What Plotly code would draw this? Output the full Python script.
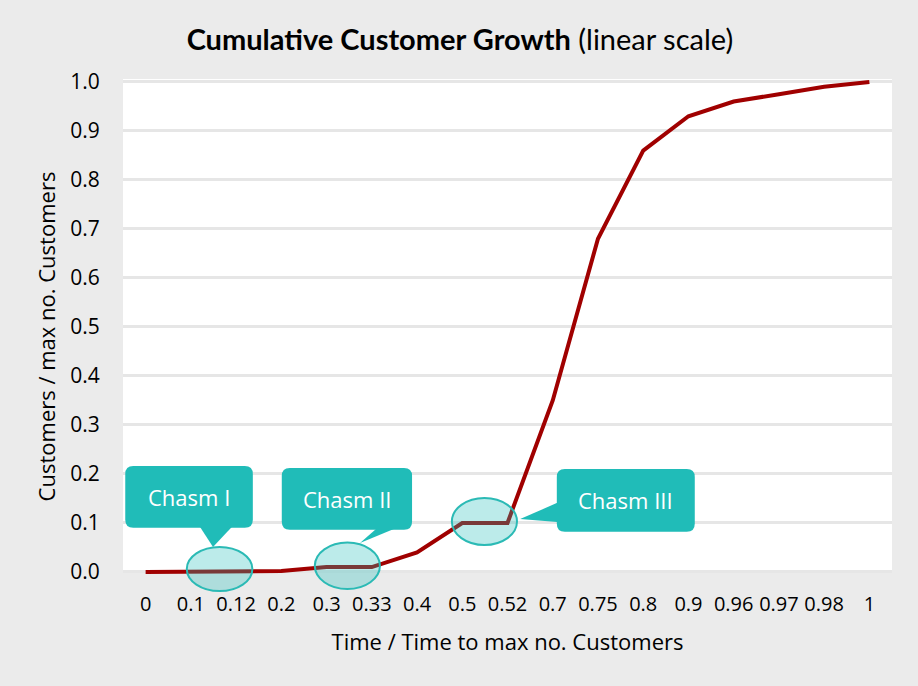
import plotly.graph_objects as go

# ---- data ----
time_labels = ["0", "0.1", "0.12", "0.2", "0.3", "0.33", "0.4", "0.5", "0.52",
               "0.7", "0.75", "0.8", "0.9", "0.96", "0.97", "0.98", "1"]
customers = [0.0, 0.0, 0.0, 0.002, 0.01, 0.01, 0.04, 0.10, 0.10,
             0.35, 0.68, 0.86, 0.93, 0.96, 0.975, 0.99, 1.0]
y_ticks = [0.0, 0.1, 0.2, 0.3, 0.4, 0.5, 0.6, 0.7, 0.8, 0.9, 1.0]

chasm_names = ["Chasm I", "Chasm II", "Chasm III"]
# ellipse extents in axis units (x = category index, y = data value)
chasm_ellipses = [(0.91, 2.36, -0.039, 0.051),
                  (3.74, 5.18, -0.035, 0.060),
                  (6.77, 8.21, 0.055, 0.151)]
# callout boxes (x0, x1, y0, y1) in axis units
chasm_boxes = [(-0.45, 2.37, 0.090, 0.216),
               (3.01, 5.89, 0.086, 0.212),
               (9.09, 12.14, 0.082, 0.210)]
# callout tails: list of three points
chasm_tails = [[(1.20, 0.092), (1.49, 0.051), (1.91, 0.092)],
               [(5.10, 0.088), (4.74, 0.059), (5.50, 0.088)],
               [(9.10, 0.141), (8.28, 0.108), (9.10, 0.102)]]

x_idx = list(range(len(time_labels)))

BG = "#ebebeb"
TEAL = "#20bcb8"
RED = "#a00000"

fig = go.Figure()
fig.add_trace(go.Scatter(x=x_idx, y=customers, mode="lines",
                         line=dict(color=RED, width=4),
                         hoverinfo="skip", showlegend=False))

shapes = []
# white plotting region (only from 0 to 1)
shapes.append(dict(type="rect", xref="x domain", yref="y", x0=0, x1=1,
                   y0=0, y1=1.01, fillcolor="white", line=dict(width=0),
                   layer="below"))

# px-per-unit helpers for rounded corners
XPX = 769 / 17.0
YPX = 490.0


def rounded_box(x0, x1, y0, y1, r=8):
    rx = r / XPX
    ry = r / YPX
    return (f"M {x0+rx},{y1} L {x1-rx},{y1} Q {x1},{y1} {x1},{y1-ry} "
            f"L {x1},{y0+ry} Q {x1},{y0} {x1-rx},{y0} L {x0+rx},{y0} "
            f"Q {x0},{y0} {x0},{y0+ry} L {x0},{y1-ry} Q {x0},{y1} {x0+rx},{y1} Z")


annotations = []
for name, (ex0, ex1, ey0, ey1), (bx0, bx1, by0, by1), tail in zip(
        chasm_names, chasm_ellipses, chasm_boxes, chasm_tails):
    shapes.append(dict(type="circle", xref="x", yref="y", x0=ex0, x1=ex1,
                       y0=ey0, y1=ey1, fillcolor="rgba(32,188,184,0.30)",
                       line=dict(color="#2bbab5", width=2), layer="above"))
    shapes.append(dict(type="path", xref="x", yref="y",
                       path=rounded_box(bx0, bx1, by0, by1),
                       fillcolor=TEAL, line=dict(width=0), layer="above"))
    (ax, ay), (bx, by), (cx, cy) = tail
    shapes.append(dict(type="path", xref="x", yref="y",
                       path=f"M {ax},{ay} L {bx},{by} L {cx},{cy} Z",
                       fillcolor=TEAL, line=dict(width=0), layer="above"))
    annotations.append(dict(x=(bx0 + bx1) / 2, y=(by0 + by1) / 2, xref="x",
                            yref="y", text=name, showarrow=False,
                            font=dict(family="Open Sans", size=22,
                                      color="white")))

fig.update_layout(
    width=918, height=686,
    paper_bgcolor=BG, plot_bgcolor=BG,
    margin=dict(l=123, r=26, t=79, b=92),
    title=dict(text="<b>Cumulative Customer Growth</b> (linear scale)",
               x=0.501, xref="container", xanchor="center",
               y=1 - 40 / 686, yref="container", yanchor="middle",
               font=dict(family="Lato", size=29, color="black")),
    xaxis=dict(range=[-0.5, 16.5], tickmode="array", tickvals=x_idx,
               ticktext=time_labels, showgrid=False, zeroline=False,
               showline=False, ticks="", ticklabelstandoff=-4,
               tickfont=dict(family="Open Sans", size=20, color="black"),
               title=dict(text="Time / Time to max no. Customers",
                          font=dict(family="Open Sans", size=22,
                                    color="black"), standoff=18)),
    yaxis=dict(range=[-0.045, 1.006], tickmode="array", tickvals=y_ticks,
               ticktext=[f"{v:.1f}" for v in y_ticks], showgrid=True,
               gridcolor="#e6e6e6", gridwidth=3, zeroline=False,
               showline=False, ticks="outside", ticklen=18,
               tickcolor="rgba(0,0,0,0)",
               tickfont=dict(family="Open Sans", size=21, color="black"),
               title=dict(text="Customers / max no. Customers",
                          font=dict(family="Open Sans", size=22,
                                    color="black"), standoff=8)),
    shapes=shapes,
    annotations=annotations,
)

fig.write_html("out.html", config={"displayModeBar": False},
               post_script="document.body.style.margin='0';"
                           "document.documentElement.style.background='#ebebeb';")
